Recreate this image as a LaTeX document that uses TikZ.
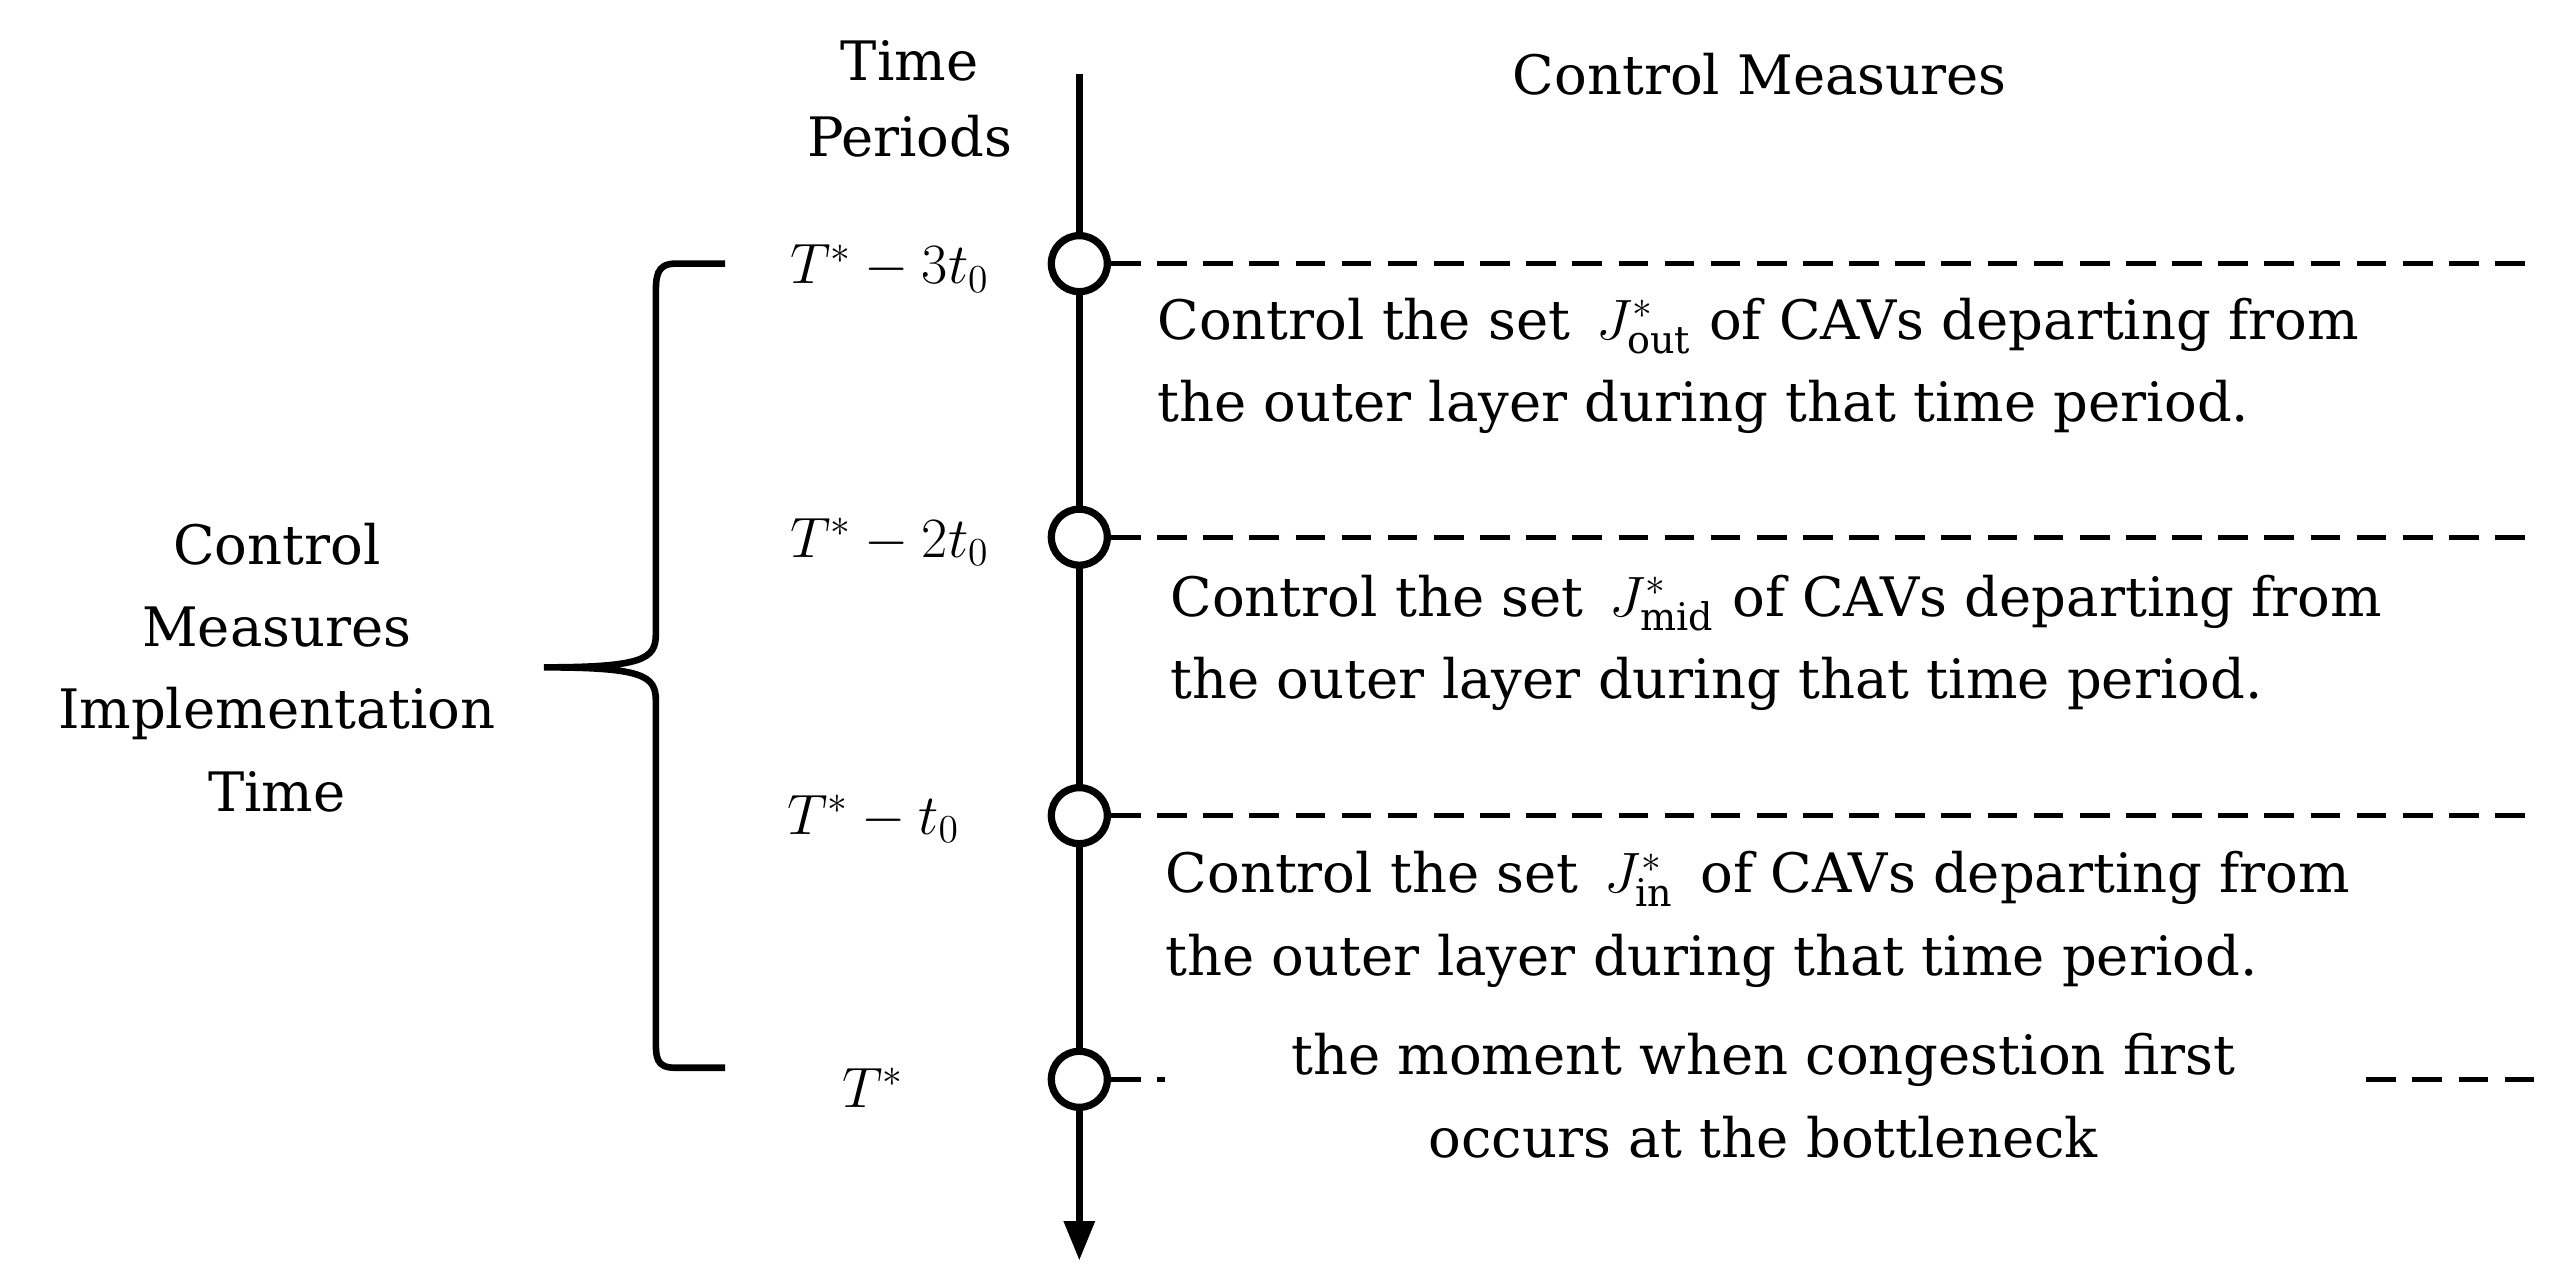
\documentclass[tikz,border=0pt]{standalone}
\usepackage{fontspec}
\setmainfont{DejaVu Serif}
\usetikzlibrary{arrows.meta}
\begin{document}
\begin{tikzpicture}[x=0.5pt,y=-0.5pt,
  txt/.style={font=\fontsize{16.5}{25}\selectfont,inner sep=0pt,align=center},
  tm/.style={font=\fontsize{17}{20}\selectfont,inner sep=0pt},
  dot/.style={circle,draw,line width=2.2pt,fill=white,minimum size=17pt,inner sep=0pt},
  dashln/.style={line width=1.6pt,dash pattern=on 9pt off 5pt}]
\useasboundingbox (0,0) rectangle (1556,779);
\coordinate (top) at (655,45);
\coordinate (bot) at (655,765);
\draw[line width=2.2pt,-{Triangle[length=12pt,width=9pt]}] (top) -- (bot);
\foreach \n/\y in {a/160,b/326,c/495,d/655}{
  \node[dot] (\n) at (655,\y) {};
}
\coordinate (ea) at (1540,160); \coordinate (eb) at (1540,326); \coordinate (ec) at (1540,495);
\draw[dashln] (a.east) -- (ea);
\draw[dashln] (b.east) -- (eb);
\draw[dashln] (c.east) -- (ec);
\coordinate (d1) at (707,655); \coordinate (d2) at (1436,655); \coordinate (d3) at (1540,655);
\draw[dashln] (d.east) -- (d1);
\draw[dashln] (d2) -- (d3);
\node[txt] (tp) at (552,60) {Time\\[-2pt]Periods};
\node[txt] (cm) at (1068,45) {Control Measures};
\node[tm] (ta) at (540,163) {$T^{*}-3t_{0}$};
\node[tm] (tb) at (540,329) {$T^{*}-2t_{0}$};
\node[tm] (tc) at (530,497) {$T^{*}-t_{0}$};
\node[tm] (td) at (530,660) {$T^{*}$};
\node[txt,align=left,anchor=west] (la) at (702,222) {Control the set \,$J^{*}_{\mathrm{out}}$ of CAVs departing from\\the outer layer during that time period.};
\node[txt,align=left,anchor=west] (lb) at (710,390) {Control the set \,$J^{*}_{\mathrm{mid}}$ of CAVs departing from\\the outer layer during that time period.};
\node[txt,align=left,anchor=west] (lc) at (707,558) {Control the set \,$J^{*}_{\mathrm{in}}$\, of CAVs departing from\\the outer layer during that time period.};
\node[txt] (ld) at (1070,665) {the moment when congestion first\\occurs at the bottleneck};
\node[txt] (cmi) at (168,405) {Control\\Measures\\Implementation\\Time};
\draw[line width=2pt] (440,160) -- (410,160) .. controls (398,160) and (398,168) .. (398,180) -- (398,385) .. controls (398,400) and (390,405) .. (330,405) .. controls (390,405) and (398,410) .. (398,425) -- (398,630) .. controls (398,642) and (398,648) .. (410,648) -- (440,648);
\end{tikzpicture}
\end{document}
